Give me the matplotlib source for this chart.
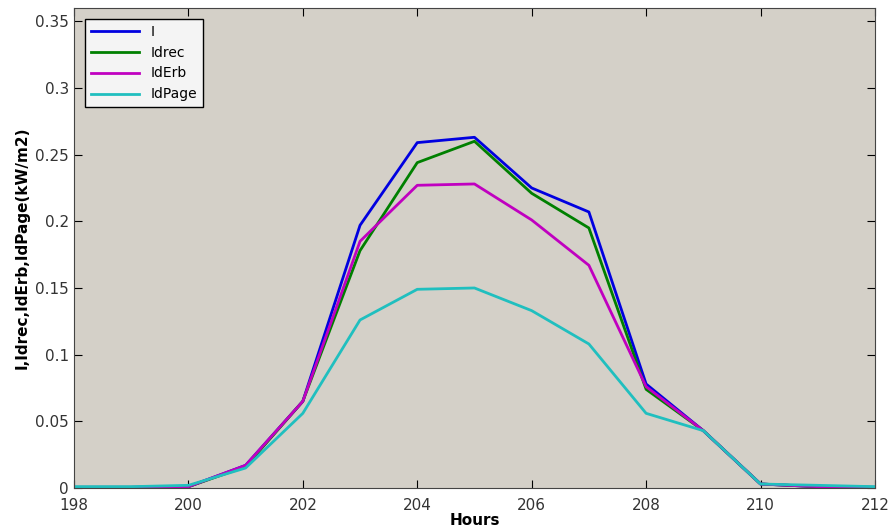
import matplotlib
matplotlib.use("Agg")
import matplotlib.pyplot as plt

hours = [198, 199, 200, 201, 202, 203, 204, 205, 206, 207, 208, 209, 210, 211, 212]

I = [0.0005, 0.0005, 0.001, 0.017, 0.065, 0.197, 0.259, 0.263, 0.225, 0.207, 0.078, 0.043, 0.003, 0.001, 0.0005]
Idrec = [0.0005, 0.0005, 0.001, 0.016, 0.065, 0.178, 0.244, 0.260, 0.221, 0.195, 0.074, 0.043, 0.003, 0.001, 0.0005]
IdErb = [0.0005, 0.0005, 0.001, 0.017, 0.065, 0.185, 0.227, 0.228, 0.201, 0.167, 0.076, 0.043, 0.003, 0.001, 0.0005]
IdPage = [0.001, 0.001, 0.002, 0.015, 0.056, 0.126, 0.149, 0.150, 0.133, 0.108, 0.056, 0.043, 0.003, 0.002, 0.001]

fig = plt.figure(figsize=(8.91, 5.29), dpi=100)
ax = fig.add_axes([0.083, 0.0775, 0.899, 0.9075])
ax.set_facecolor("#d4d0c8")

ax.plot(hours, I, color="#0000e0", lw=2, label="I")
ax.plot(hours, Idrec, color="#008000", lw=2, label="Idrec")
ax.plot(hours, IdErb, color="#c000c0", lw=2, label="IdErb")
ax.plot(hours, IdPage, color="#20bfbf", lw=2, label="IdPage")

ax.set_xlim(198, 212)
ax.set_ylim(0, 0.36)
ax.set_xticks(range(198, 213, 2))
ax.set_yticks([0, 0.05, 0.1, 0.15, 0.2, 0.25, 0.3, 0.35])
ax.set_yticklabels(["0", "0.05", "0.1", "0.15", "0.2", "0.25", "0.3", "0.35"])
ax.tick_params(direction="in", top=True, right=True, length=6, labelsize=11, labelcolor="#333333")
ax.tick_params(axis="x", pad=7)
for s in ax.spines.values():
    s.set_color("#444444")

ax.set_xlabel("Hours", fontweight="bold", fontsize=11, labelpad=0)
ax.set_ylabel("I,Idrec,IdErb,IdPage(kW/m2)", fontweight="bold", fontsize=11)

leg = ax.legend(loc="upper left", fontsize=10, fancybox=False, edgecolor="black",
                framealpha=1, handlelength=3.5, borderaxespad=0.8)
leg.get_frame().set_facecolor("#f4f4f4")

fig.savefig("out.png", dpi=100)
